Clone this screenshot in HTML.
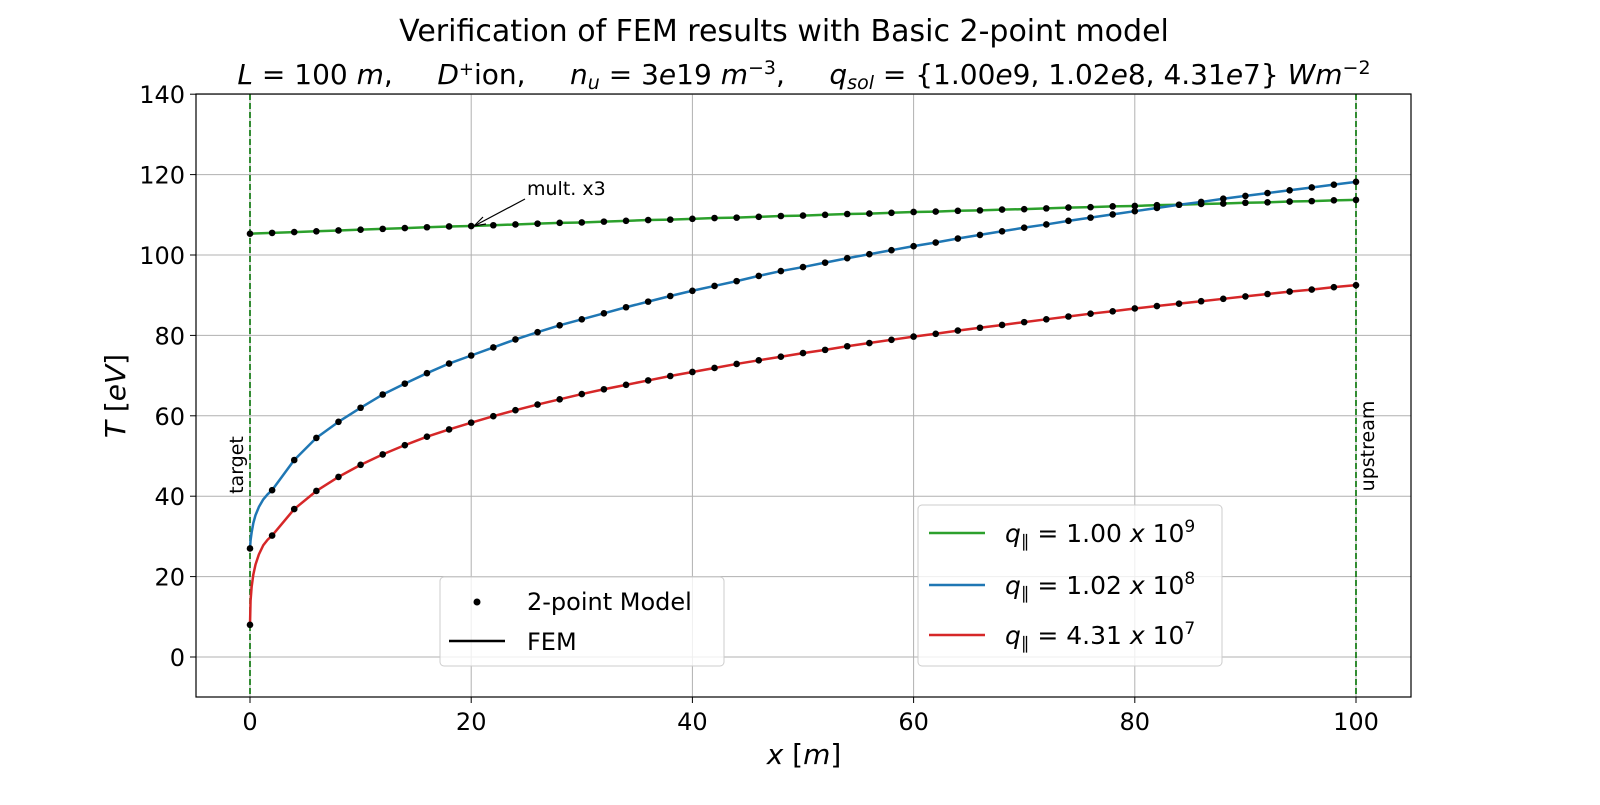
<!DOCTYPE html>
<html><head><meta charset="utf-8"><style>
body{margin:0;background:#fff}
svg text{font-family:"DejaVu Sans","Liberation Sans",sans-serif;fill:#000}
</style></head><body>
<svg id="chart" width="1600" height="800" viewBox="0 0 1600 800" xmlns="http://www.w3.org/2000/svg">
<text x="784" y="41" font-size="30" text-anchor="middle">Verification of FEM results with Basic 2-point model</text>
<text x="804" y="84" font-size="28" text-anchor="middle" style="white-space:pre"><tspan font-style="italic">L</tspan> = 100 <tspan font-style="italic">m</tspan>,     <tspan font-style="italic">D</tspan><tspan baseline-shift="9" font-size="18">+</tspan>ion,     <tspan font-style="italic">n</tspan><tspan font-style="italic" baseline-shift="-5" font-size="19">u</tspan> = 3<tspan font-style="italic">e</tspan>19 <tspan font-style="italic">m</tspan><tspan baseline-shift="10" font-size="19">−3</tspan>,     <tspan font-style="italic">q</tspan><tspan font-style="italic" baseline-shift="-5" font-size="19">sol</tspan> = {1.00<tspan font-style="italic">e</tspan>9, 1.02<tspan font-style="italic">e</tspan>8, 4.31<tspan font-style="italic">e</tspan>7} <tspan font-style="italic">Wm</tspan><tspan baseline-shift="10" font-size="19">−2</tspan></text>
<g id="grid"></g><g id="axes"></g><g id="series"></g>
<rect x="196" y="94" width="1215" height="603" fill="none" stroke="#000" stroke-width="1.2"/>
<text transform="translate(125,396) rotate(-90)" font-size="28" text-anchor="middle"><tspan font-style="italic">T</tspan> [<tspan font-style="italic">eV</tspan>]</text>
<text x="804" y="764" font-size="28" text-anchor="middle"><tspan font-style="italic">x</tspan> [<tspan font-style="italic">m</tspan>]</text>
<text transform="translate(243,465) rotate(-90)" font-size="19" text-anchor="middle">target</text>
<text transform="translate(1374,446) rotate(-90)" font-size="19" text-anchor="middle">upstream</text>
<text x="527" y="195" font-size="19">mult. x3</text>
<line x1="525" y1="199" x2="476" y2="225" stroke="#000" stroke-width="1.2"/>
<path d="M474,226 L483,217 M474,226 L486,224" stroke="#000" stroke-width="1.2" fill="none"/>
<g>
<rect x="440" y="577" width="284" height="89" rx="4" fill="#fff" fill-opacity="0.8" stroke="#ccc"/>
<circle cx="477" cy="602" r="3.5" fill="#000"/>
<text x="527" y="610" font-size="24">2-point Model</text>
<line x1="449" y1="641" x2="505" y2="641" stroke="#000" stroke-width="2.5"/>
<text x="527" y="650" font-size="24">FEM</text>
</g>
<g>
<rect x="918" y="505" width="304" height="161" rx="4" fill="#fff" fill-opacity="0.8" stroke="#ccc"/>
<line x1="929" y1="533" x2="985" y2="533" stroke="#2ca02c" stroke-width="2.5"/>
<text x="1005" y="542" font-size="25" style="white-space:pre"><tspan font-style="italic">q</tspan><tspan baseline-shift="-5" font-size="17">∥</tspan> = 1.00 <tspan font-style="italic">x</tspan> 10<tspan baseline-shift="10" font-size="17">9</tspan></text>
<line x1="929" y1="585" x2="985" y2="585" stroke="#1f77b4" stroke-width="2.5"/>
<text x="1005" y="594" font-size="25" style="white-space:pre"><tspan font-style="italic">q</tspan><tspan baseline-shift="-5" font-size="17">∥</tspan> = 1.02 <tspan font-style="italic">x</tspan> 10<tspan baseline-shift="10" font-size="17">8</tspan></text>
<line x1="929" y1="635" x2="985" y2="635" stroke="#d62728" stroke-width="2.5"/>
<text x="1005" y="644" font-size="25" style="white-space:pre"><tspan font-style="italic">q</tspan><tspan baseline-shift="-5" font-size="17">∥</tspan> = 4.31 <tspan font-style="italic">x</tspan> 10<tspan baseline-shift="10" font-size="17">7</tspan></text>
</g>
</svg>
<script>
const xs = [0,2,4,6,8,10,12,14,16,18,20,22,24,26,28,30,32,34,36,38,40,42,44,46,48,50,52,54,56,58,60,62,64,66,68,70,72,74,76,78,80,82,84,86,88,90,92,94,96,98,100];
const greenT = [105.3,105.5,105.7,105.9,106.1,106.3,106.5,106.7,106.9,107.1,107.2,107.4,107.6,107.8,108.0,108.1,108.3,108.5,108.7,108.8,109.0,109.2,109.3,109.5,109.7,109.8,110.0,110.2,110.3,110.5,110.7,110.8,111.0,111.1,111.3,111.4,111.6,111.8,111.9,112.1,112.2,112.4,112.5,112.7,112.8,113.0,113.1,113.3,113.4,113.6,113.7];
const blueT = [27,41.5,49,54.5,58.5,62,65.3,68,70.6,73,75,77,79,80.8,82.5,84,85.5,87,88.4,89.8,91.1,92.3,93.5,94.8,96,97,98.1,99.2,100.2,101.2,102.2,103.1,104.1,105,105.9,106.8,107.6,108.5,109.3,110.1,110.9,111.7,112.5,113.2,114,114.7,115.4,116.1,116.8,117.5,118.2];
const redT = [8,30.2,36.8,41.3,44.8,47.8,50.4,52.7,54.8,56.6,58.3,59.9,61.4,62.8,64.1,65.4,66.6,67.7,68.8,69.9,70.9,71.9,72.9,73.8,74.7,75.6,76.4,77.3,78.1,78.9,79.7,80.4,81.2,81.9,82.6,83.3,84,84.7,85.4,86,86.7,87.3,87.9,88.5,89.1,89.7,90.3,90.9,91.4,92,92.5];
// fine FEM samples near the target (x < 2)
const femNearX = [0,0.05,0.15,0.3,0.5,0.8,1.2,1.6];
const blueFemNear = [27,29,31,33.3,35.3,37.3,39.2,40.5];
const redFemNear = [8,14,17.5,20.5,23,25.5,27.8,29.2];
const xTicks = [0,20,40,60,80,100];
const yTicks = [0,20,40,60,80,100,120,140];

const NS="http://www.w3.org/2000/svg";
const X=v=>250+v*11.06;
const Y=v=>657-v*4.02;
function mk(tag,parent){const e=document.createElementNS(NS,tag);parent.appendChild(e);return e;}
const grid=document.getElementById('grid'),axes=document.getElementById('axes'),ser=document.getElementById('series');
xTicks.forEach(t=>{
  const g=mk('line',grid);
  
  
  g.setAttribute('x1',X(t));g.setAttribute('x2',X(t));g.setAttribute('y1',94);g.setAttribute('y2',697);g.setAttribute('stroke','#b0b0b0');g.setAttribute('stroke-width','1');
  const tk=mk('line',axes);
  
  
  tk.setAttribute('x1',X(t));tk.setAttribute('x2',X(t));tk.setAttribute('y1',697);tk.setAttribute('y2',703);tk.setAttribute('stroke','#000');
  const l=mk('text',axes);
  
  
  l.setAttribute('x',X(t));l.setAttribute('y',730);l.setAttribute('font-size','24');l.setAttribute('text-anchor','middle');l.textContent=t;
});
yTicks.forEach(t=>{
  const g=mk('line',grid);
  
  
  g.setAttribute('x1',196);g.setAttribute('x2',1411);g.setAttribute('y1',Y(t));g.setAttribute('y2',Y(t));g.setAttribute('stroke','#b0b0b0');g.setAttribute('stroke-width','1');
  const tk=mk('line',axes);
  
  
  tk.setAttribute('x1',190);tk.setAttribute('x2',196);tk.setAttribute('y1',Y(t));tk.setAttribute('y2',Y(t));tk.setAttribute('stroke','#000');
  const l=mk('text',axes);
  
  
  l.setAttribute('x',185);l.setAttribute('y',Y(t)+9);l.setAttribute('font-size','24');l.setAttribute('text-anchor','end');l.textContent=t;
});
[0,100].forEach(v=>{
  const d=mk('line',ser);
  
  
  d.setAttribute('x1',X(v));d.setAttribute('x2',X(v));d.setAttribute('y1',94);d.setAttribute('y2',697);d.setAttribute('stroke','#007000');d.setAttribute('stroke-width','1.6');d.setAttribute('stroke-dasharray','6,3');
});
[['green',greenT,'#2ca02c',null],['blue',blueT,'#1f77b4',blueFemNear],['red',redT,'#d62728',redFemNear]].forEach(([n,arr,c,near])=>{
  let pts=[];
  if(near){femNearX.forEach((x,i)=>pts.push(X(x)+','+Y(near[i])));xs.forEach((x,i)=>{if(x>0)pts.push(X(x)+','+Y(arr[i]));});}
  else xs.forEach((x,i)=>pts.push(X(x)+','+Y(arr[i])));
  const p=mk('polyline',ser);
  
  
  p.setAttribute('points',pts.join(' '));
  p.setAttribute('fill','none');p.setAttribute('stroke',c);p.setAttribute('stroke-width','2.5');p.setAttribute('stroke-linejoin','round');
});
[['green',greenT],['blue',blueT],['red',redT]].forEach(([n,arr])=>{
  xs.forEach((x,i)=>{
    const d=mk('circle',ser);
    
    
    d.setAttribute('cx',X(x));d.setAttribute('cy',Y(arr[i]));d.setAttribute('r','3.3');d.setAttribute('fill','#000');
  });
});
</script>
</body></html>
